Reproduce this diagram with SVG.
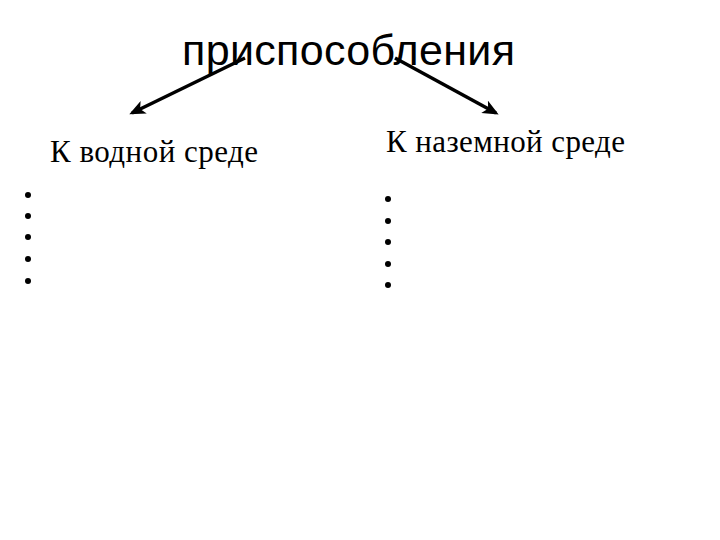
<svg xmlns="http://www.w3.org/2000/svg" width="720" height="540" viewBox="0 0 720 540">
<defs>
<style>
.title{font-family:"Liberation Sans",Arial,sans-serif;font-size:43px;fill:#000}
.lbl{font-family:"Liberation Serif","Times New Roman",serif;font-size:31px;fill:#000}
.bul{fill:#000}
.con{stroke:#000;stroke-width:3.5;fill:none}
</style>
<marker id="ah" viewBox="0 0 16 14" refX="13" refY="7" markerWidth="16" markerHeight="14" markerUnits="userSpaceOnUse" orient="auto">
<path d="M0,0 L16,7 L0,14 L4,7 Z" fill="#000"/>
</marker>
</defs>
<rect width="720" height="540" fill="#fff"/>
<g id="title"><text class="title" x="182" y="65" textLength="333">приспособления</text></g>
<g id="water">
<text class="lbl" x="50" y="162" textLength="208">К водной среде</text>
<circle class="bul" cx="28" cy="195" r="3"/>
<circle class="bul" cx="28" cy="216" r="3"/>
<circle class="bul" cx="28" cy="237" r="3"/>
<circle class="bul" cx="28" cy="259" r="3"/>
<circle class="bul" cx="28" cy="281" r="3"/>
</g>
<g id="land">
<text class="lbl" x="386" y="152" textLength="239">К наземной среде</text>
<circle class="bul" cx="388" cy="199" r="3"/>
<circle class="bul" cx="388" cy="221" r="3"/>
<circle class="bul" cx="388" cy="242" r="3"/>
<circle class="bul" cx="388" cy="264" r="3"/>
<circle class="bul" cx="388" cy="285" r="3"/>
</g>
<g id="connectors">
<line class="con" x1="245" y1="58" x2="132" y2="113" marker-end="url(#ah)"/>
<line class="con" x1="395" y1="58" x2="496" y2="113" marker-end="url(#ah)"/>
</g>
</svg>
